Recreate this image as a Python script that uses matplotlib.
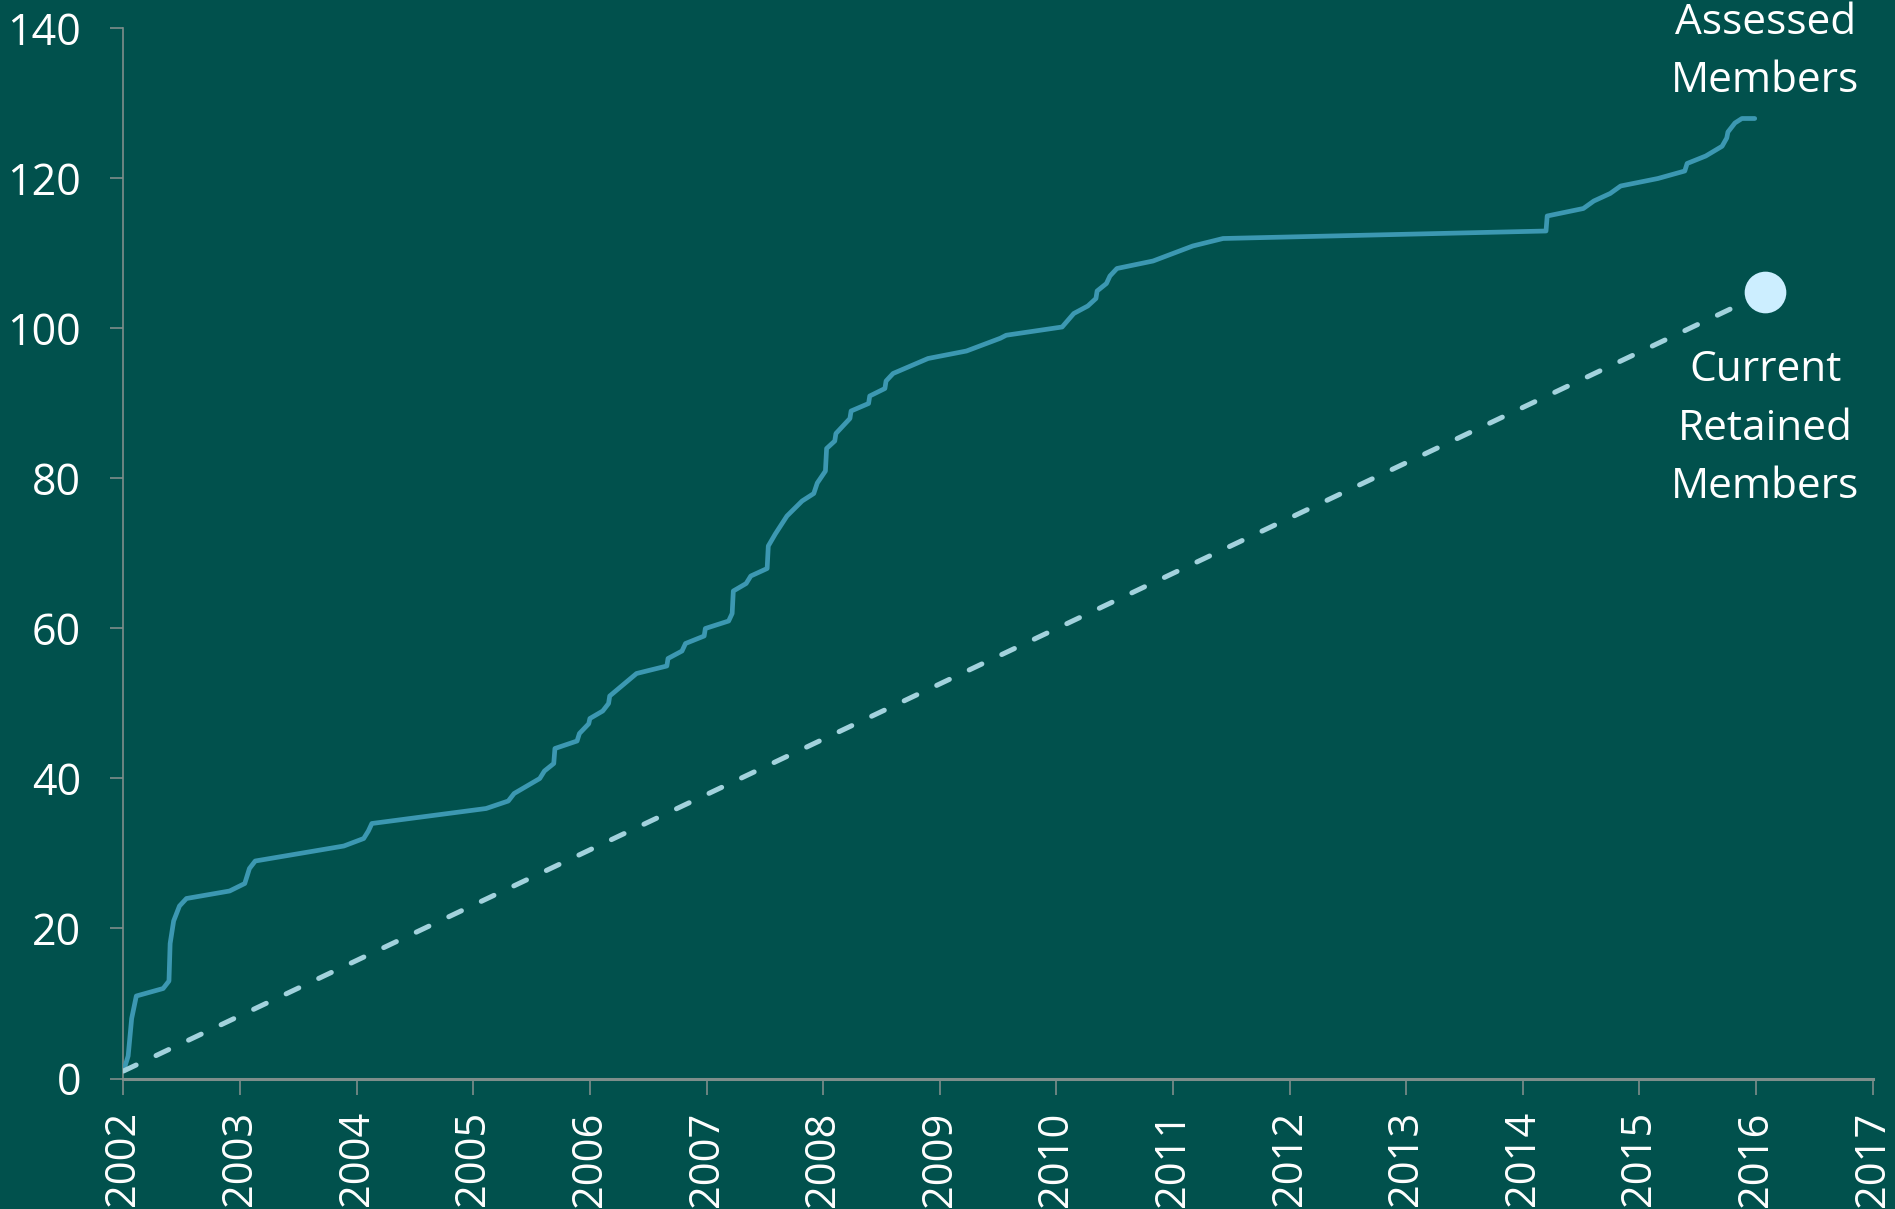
import matplotlib
matplotlib.use("Agg")
import matplotlib.pyplot as plt

# ---- data ----
assessed_year = [
    2002.00, 2002.04, 2002.07, 2002.11, 2002.34, 2002.39, 2002.40, 2002.43,
    2002.48, 2002.54, 2002.91, 2003.04, 2003.08, 2003.13, 2003.89, 2004.06,
    2004.10, 2004.13, 2005.11, 2005.30, 2005.35, 2005.57, 2005.61, 2005.69,
    2005.70, 2005.89, 2005.91, 2005.99, 2006.00, 2006.11, 2006.16, 2006.17,
    2006.40, 2006.66, 2006.67, 2006.79, 2006.82, 2006.98, 2006.99, 2007.19,
    2007.22, 2007.23, 2007.34, 2007.38, 2007.52, 2007.53, 2007.59, 2007.69,
    2007.82, 2007.92, 2007.95, 2008.02, 2008.03, 2008.10, 2008.11, 2008.23,
    2008.24, 2008.39, 2008.40, 2008.53, 2008.54, 2008.60, 2008.90, 2009.23,
    2009.52, 2009.57, 2010.05, 2010.15, 2010.27, 2010.34, 2010.35, 2010.43,
    2010.46, 2010.52, 2010.83, 2011.17, 2011.43, 2014.20, 2014.21, 2014.52,
    2014.61, 2014.75, 2014.84, 2015.16, 2015.39, 2015.41, 2015.57, 2015.71,
    2015.75, 2015.76, 2015.82, 2015.88, 2015.99,
]
assessed_members = [
    1, 3, 8, 11, 12, 13, 18, 21,
    23, 24, 25, 26, 28, 29, 31, 32,
    33, 34, 36, 37, 38, 40, 41, 42,
    44, 45, 46, 47.3, 48, 49, 50, 51,
    54, 55, 56, 57, 58, 59, 60, 61,
    62, 65, 66, 67, 68, 71, 72.6, 75,
    77, 78, 79.4, 81, 84, 85, 86, 88,
    89, 90, 91, 92, 93, 94, 96, 97,
    98.7, 99.1, 100.2, 102, 103, 104, 105, 106,
    107, 108, 109, 111, 112, 113, 115, 116,
    117, 118, 119, 120, 121, 122, 123, 124.3,
    125.4, 126.2, 127.4, 128, 128,
]
retained_year = [2002.0, 2016.08]
retained_members = [1.0, 104.8]

year_ticks = list(range(2002, 2018))
value_ticks = [0, 20, 40, 60, 80, 100, 120, 140]

label_assessed = "Assessed\nMembers"
label_retained = "Current\nRetained\nMembers"

# ---- style ----
BG = "#01514D"
SOLID = "#3C98B2"
DASH = "#A3D2DD"
DOT = "#CCEEFF"
AXIS = "#7E8E8B"
FONT = ["Open Sans", "DejaVu Sans"]

plt.rcParams["font.family"] = FONT

fig = plt.figure(figsize=(18.95, 12.09), dpi=100, facecolor=BG)
ax = fig.add_axes([0.06517, 0.10794, 0.92296, 0.86849])
ax.set_facecolor(BG)

ax.plot(assessed_year, assessed_members, color=SOLID, lw=3.4,
        solid_joinstyle="round", solid_capstyle="round", zorder=3)
ax.plot(retained_year, retained_members, color=DASH, lw=3.6,
        dashes=(2.8, 4.4), dash_capstyle="round", zorder=3)
ax.plot([retained_year[-1]], [retained_members[-1]], "o", color=DOT,
        markersize=30, markeredgewidth=0, zorder=4)

ax.set_xlim(2002, 2017)
ax.set_ylim(0, 140)
ax.set_xticks(year_ticks)
ax.set_xticklabels([str(y) for y in year_ticks], rotation=90)
ax.set_yticks(value_ticks)

for s in ["top", "right"]:
    ax.spines[s].set_visible(False)
ax.spines["left"].set_color(AXIS)
ax.spines["left"].set_linewidth(1.2)
ax.spines["bottom"].set_color(AXIS)
ax.spines["bottom"].set_linewidth(2.2)

ax.tick_params(axis="y", direction="out", length=9.5, width=1.2, color=AXIS,
               pad=21, labelsize=31, labelcolor="white")
ax.tick_params(axis="x", direction="out", length=11.5, width=1.2, color=AXIS,
               pad=12, labelsize=30, labelcolor="white")

ax.text(retained_year[-1], 131.5, label_assessed, ha="center", va="baseline",
        fontsize=30.5, color="white", linespacing=1.51, clip_on=False)
ax.text(retained_year[-1], 77.4, label_retained, ha="center", va="baseline",
        fontsize=30.5, color="white", linespacing=1.51, clip_on=False)

fig.savefig("out.png", dpi=100, facecolor=BG)
